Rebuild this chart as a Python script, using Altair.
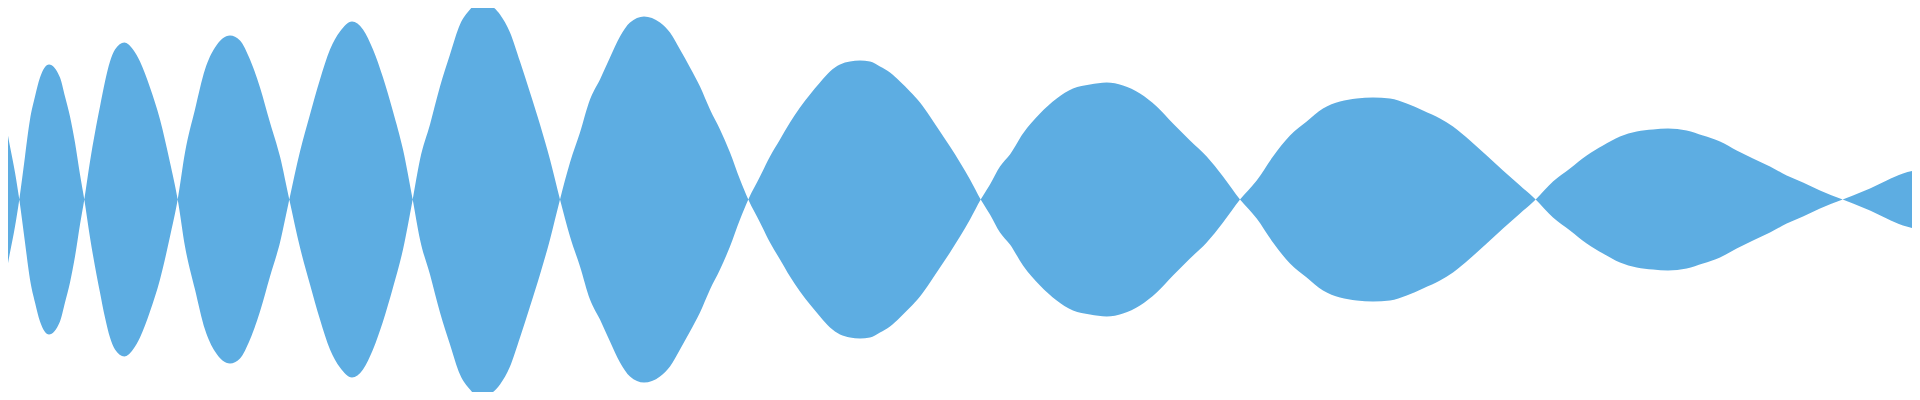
import altair as alt
import pandas as pd

# time positions (signal samples)
t = [
    0, 5, 10, 15, 19.3,
    25, 30, 35, 40, 49, 60, 65, 70, 75, 80, 84.3,
    90, 95, 100, 105, 110, 115, 124.3, 133, 140, 150, 160, 170, 177.7,
    185, 195, 205, 215, 230, 240, 250, 260, 270, 280, 289.3,
    300, 310, 320, 330, 340, 352, 363, 373, 383, 393, 403, 412.7,
    420, 430, 440, 450, 460, 470, 482, 490, 500, 510, 520, 530, 540, 550, 560,
    570, 580, 590, 600, 610, 620, 630, 644, 660, 670, 680, 690, 700, 710, 720, 730, 740, 748.3,
    760, 770, 780, 790, 800, 810, 820, 830, 840, 850, 860, 870, 880, 890, 900, 910, 920, 930,
    940, 950, 960, 970, 980.7,
    990, 1000, 1010, 1023, 1040, 1056.7, 1073, 1090, 1106.7, 1123, 1140, 1156.7, 1173, 1190,
    1206.7, 1223, 1240,
    1256.7, 1273, 1290, 1306.7, 1323, 1340, 1356.7, 1373, 1390, 1406.7, 1423, 1440, 1453, 1470,
    1486.7, 1503, 1520, 1535.7,
    1553, 1570, 1586.7, 1603, 1620, 1636.7, 1653, 1668, 1686.7, 1703, 1720, 1736.7, 1753, 1770,
    1786.7, 1803, 1820, 1842.7,
    1853, 1870, 1886.7, 1903, 1920,
]

# signed signal amplitude at each sample
v = [
    88, 78, 53, 27, 0,
    -43, -80, -103, -122, -135, -122, -103, -83, -57, -25, 0,
    38, 67, 93, 118, 138, 150, 157, 150, 138, 112, 80, 37, 0,
    -47, -90, -130, -152, -164, -159, -140, -112, -77, -43, 0,
    48, 85, 120, 150, 168, 178, 170, 150, 122, 88, 50, 0,
    -40, -75, -113, -145, -175, -190, -200, -195, -185, -167, -138, -107, -75, -40, 0,
    37, 67, 100, 120, 142, 163, 177, 183, 177, 167, 150, 132, 113, 90, 70, 47, 20, 0,
    -23, -43, -60, -77, -92, -105, -117, -128, -135, -138, -139, -138, -133, -127, -118, -108, -97, -83,
    -68, -53, -37, -20, 0,
    15, 33, 45, 66, 86, 101, 111, 115, 117, 114, 106, 93, 76, 59,
    43, 23, 0,
    -19, -43, -64, -78, -91, -98, -101, -102, -101, -96, -89, -81, -73, -59,
    -44, -29, -14, 0,
    18, 31, 44, 54, 63, 68, 70, 71, 69, 64, 58, 49, 41, 33,
    24, 17, 9, 0,
    -4, -11, -19, -26, -30,
]

df = pd.DataFrame({"t": t, "v": v})

chart = (
    alt.Chart(df)
    .transform_calculate(neg="-datum.v")
    .mark_area(interpolate="monotone", color="#5DADE2", opacity=1, clip=True)
    .encode(
        x=alt.X("t:Q", scale=alt.Scale(domain=[8, 1912], nice=False, zero=False), axis=None),
        y=alt.Y("v:Q", scale=alt.Scale(domain=[-192.5, 191.5], nice=False, zero=False), axis=None),
        y2="neg:Q",
    )
    .properties(width=1904, height=384, padding=0)
    .configure_view(stroke=None)
)

chart.save("out.html", embed_options={"renderer": "svg", "actions": False})
